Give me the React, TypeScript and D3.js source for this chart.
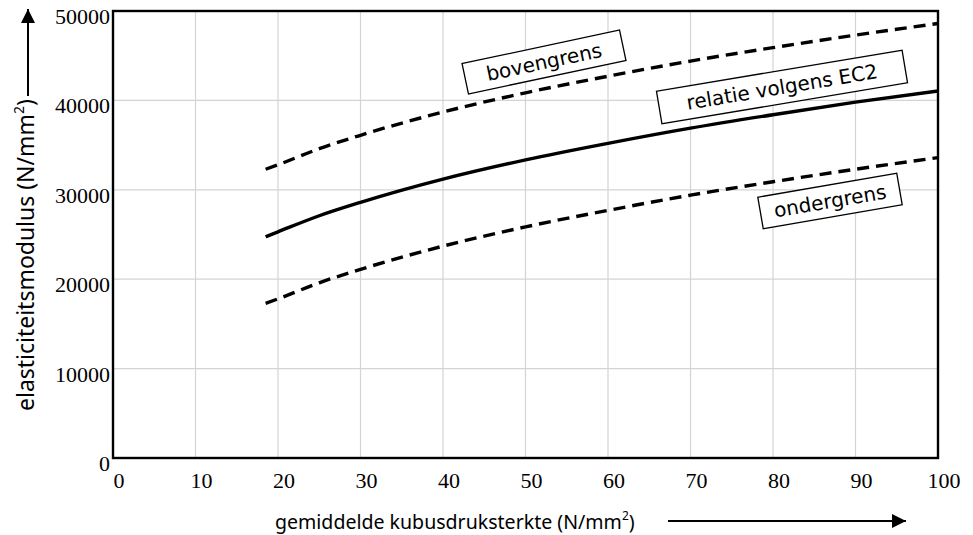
import React, { useEffect, useRef } from 'react';
import * as d3 from 'd3';

// sterkte (N/mm2) at which the curves were read
const strength = [18.5, 20, 25, 30, 40, 50, 60, 70, 80, 90, 100];
// E-modulus (N/mm2)
const ec2 = [24750, 25300, 27100, 28600, 31200, 33350, 35200, 36900, 38400, 39800, 41050];
const upper = [32300, 32800, 34600, 36100, 38700, 40850, 42700, 44400, 45900, 47300, 48600];
const lower = [17300, 17800, 19600, 21100, 23700, 25850, 27700, 29400, 30900, 32300, 33600];

const xTicks = [0, 10, 20, 30, 40, 50, 60, 70, 80, 90, 100];
const yTicks = [0, 10000, 20000, 30000, 40000, 50000];

const labels = [
  { text: 'bovengrens', cx: 544, cy: 62, w: 161, h: 31, angle: -12 },
  { text: 'relatie volgens EC2', cx: 782, cy: 87, w: 249, h: 33, angle: -9.5 },
  { text: 'ondergrens', cx: 830, cy: 201, w: 141, h: 32, angle: -9.8 },
];

const App = () => {
  const ref = useRef<SVGSVGElement>(null);

  useEffect(() => {
    const width = 973;
    const height = 535;
    const margin = { top: 11, right: 35, bottom: 77, left: 113 };

    const svg = d3.select(ref.current);
    svg.selectAll('*').remove();
    svg.attr('width', width).attr('height', height);

    const x = d3.scaleLinear().domain([0, 100]).range([margin.left, width - margin.right]);
    const y = d3.scaleLinear().domain([0, 50000]).range([height - margin.bottom, margin.top]);

    // grid
    const grid = svg.append('g').attr('stroke', '#d4d4d4').attr('stroke-width', 1.2);
    grid.selectAll('line.vx')
      .data(xTicks.slice(1, -1))
      .join('line')
      .attr('x1', d => x(d)).attr('x2', d => x(d))
      .attr('y1', y(0)).attr('y2', y(50000));
    grid.selectAll('line.hy')
      .data(yTicks.slice(1, -1))
      .join('line')
      .attr('x1', x(0)).attr('x2', x(100))
      .attr('y1', d => y(d)).attr('y2', d => y(d));

    // frame
    svg.append('rect')
      .attr('x', x(0)).attr('y', y(50000))
      .attr('width', x(100) - x(0)).attr('height', y(0) - y(50000))
      .attr('fill', 'none').attr('stroke', '#000').attr('stroke-width', 2.4);

    // tick labels
    const tickFont = '"Liberation Serif", "DejaVu Serif", serif';
    svg.append('g')
      .selectAll('text')
      .data(xTicks)
      .join('text')
      .attr('x', d => x(d) + 6)
      .attr('y', y(0) + 30)
      .attr('text-anchor', 'middle')
      .attr('font-family', tickFont)
      .attr('font-size', 22)
      .text(d => d);
    svg.append('g')
      .selectAll('text')
      .data(yTicks)
      .join('text')
      .attr('x', x(0) - 3)
      .attr('y', d => y(d) + 13)
      .attr('text-anchor', 'end')
      .attr('font-family', tickFont)
      .attr('font-size', 22)
      .text(d => d);

    // curves
    const line = d3.line<number>()
      .x((d, i) => x(strength[i]))
      .y(d => y(d))
      .curve(d3.curveMonotoneX);

    const curves = [
      { values: upper, dash: '12,7' },
      { values: lower, dash: '12,7' },
      { values: ec2, dash: null },
    ];
    svg.append('g')
      .selectAll('path')
      .data(curves)
      .join('path')
      .attr('d', d => line(d.values))
      .attr('fill', 'none')
      .attr('stroke', '#000')
      .attr('stroke-width', 3.4)
      .attr('stroke-dasharray', d => d.dash);

    // boxed labels
    const lab = svg.append('g')
      .selectAll('g')
      .data(labels)
      .join('g')
      .attr('transform', d => `translate(${d.cx},${d.cy}) rotate(${d.angle})`);
    lab.append('rect')
      .attr('x', d => -d.w / 2).attr('y', d => -d.h / 2)
      .attr('width', d => d.w).attr('height', d => d.h)
      .attr('fill', '#fff').attr('stroke', '#000').attr('stroke-width', 1.3);
    lab.append('text')
      .attr('y', 7)
      .attr('text-anchor', 'middle')
      .attr('font-family', '"DejaVu Sans", Verdana, sans-serif')
      .attr('font-size', 20)
      .text(d => d.text);

    // axis titles with arrows, font size fitted to the measured length
    const titleFont = '"Noto Sans", "Open Sans", sans-serif';
    const title = (g, label, target) => {
      const t = g.append('text')
        .attr('font-family', titleFont)
        .attr('font-size', 18);
      t.append('tspan').text(label);
      t.append('tspan').attr('dy', -8).attr('font-size', 11).text('2');
      t.append('tspan').attr('dy', 8).text(')');
      const len = (t.node() as SVGTextElement).getComputedTextLength();
      const k = target / len;
      t.attr('font-size', 18 * k);
      t.select('tspan:nth-child(2)').attr('font-size', 11 * k).attr('dy', -8 * k);
      t.select('tspan:nth-child(3)').attr('dy', 8 * k);
    };
    title(svg.append('g').attr('transform', 'translate(275,529)'),
      'gemiddelde kubusdruksterkte (N/mm', 360);
    title(svg.append('g').attr('transform', 'translate(34,411) rotate(-90)'),
      'elasticiteitsmodulus (N/mm', 312);

    svg.append('defs').append('marker')
      .attr('id', 'arrow')
      .attr('viewBox', '0 0 10 10')
      .attr('refX', 10).attr('refY', 5)
      .attr('markerWidth', 17).attr('markerHeight', 14)
      .attr('markerUnits', 'userSpaceOnUse')
      .attr('orient', 'auto')
      .append('path')
      .attr('d', 'M0,0 L10,5 L0,10 Z')
      .attr('fill', '#000');

    svg.append('line')
      .attr('x1', 668).attr('x2', 906)
      .attr('y1', 521).attr('y2', 521)
      .attr('stroke', '#000').attr('stroke-width', 2)
      .attr('marker-end', 'url(#arrow)');
    svg.append('line')
      .attr('x1', 28).attr('x2', 28)
      .attr('y1', 96).attr('y2', 9)
      .attr('stroke', '#000').attr('stroke-width', 2)
      .attr('marker-end', 'url(#arrow)');
  }, []);

  return (
    <svg ref={ref} style={{ position: 'absolute', left: 0, top: 0, background: '#fff' }} />
  );
};

export default App;
